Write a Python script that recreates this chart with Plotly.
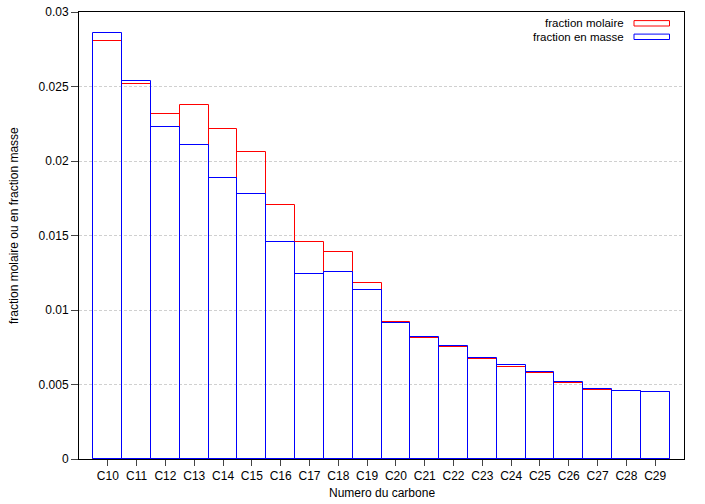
import plotly.graph_objects as go

carbones = ['C10', 'C11', 'C12', 'C13', 'C14', 'C15', 'C16', 'C17', 'C18', 'C19',
            'C20', 'C21', 'C22', 'C23', 'C24', 'C25', 'C26', 'C27', 'C28', 'C29']
fraction_molaire = [0.02807, 0.02517, 0.02315, 0.02374, 0.02215, 0.02058, 0.01707, 0.01454,
                    0.01389, 0.01184, 0.00917, 0.00810, 0.00750, 0.00669, 0.00615, 0.00575,
                    0.00508, 0.00465, 0.00454, 0.00448]
fraction_masse = [0.02857, 0.02537, 0.02230, 0.02107, 0.01884, 0.01779, 0.01459, 0.01240,
                  0.01255, 0.01132, 0.00913, 0.00817, 0.00760, 0.00680, 0.00629, 0.00586,
                  0.00517, 0.00470, 0.00458, 0.00452]
y_ticks = [0, 0.005, 0.01, 0.015, 0.02, 0.025, 0.03]
y_labels = ['0', '0.005', '0.01', '0.015', '0.02', '0.025', '0.03']

font = 'Liberation Sans, Arial, sans-serif'

# plot area in pixels (gnuplot-like frame)
L, R, T, B = 79, 684, 12, 459
W, H = R - L, B - T

fig = go.Figure()

# Outline-only bars, full width, overlaid
for name, vals, color in [('fraction molaire', fraction_molaire, 'red'),
                          ('fraction en masse', fraction_masse, 'blue')]:
    fig.add_trace(go.Bar(
        x=carbones,
        y=vals,
        name=name,
        width=1,
        marker=dict(color='rgba(0,0,0,0)', line=dict(color=color, width=1)),
        showlegend=False
    ))

# gnuplot-style legend: text on the left, sample box on the right
for i, (name, color) in enumerate([('fraction molaire', 'red'), ('fraction en masse', 'blue')]):
    yc = 1 - (11.3 + 13.5 * i) / H
    fig.add_annotation(x=(626 - L) / W, y=yc, xref='paper', yref='paper',
                       text=name, showarrow=False, xanchor='right', yanchor='middle',
                       font=dict(family=font, size=11.5, color='black'))
    fig.add_shape(type='rect', xref='paper', yref='paper',
                  x0=(634 - L) / W, x1=(669.5 - L) / W,
                  y0=yc - 2.7 / H, y1=yc + 2.7 / H,
                  line=dict(color=color, width=1), fillcolor='rgba(0,0,0,0)')

# axis titles
fig.add_annotation(x=(382 - L) / W, y=0, xref='paper', yref='paper', yshift=-(493 - B),
                   text='Numero du carbone', showarrow=False,
                   xanchor='center', yanchor='middle',
                   font=dict(family=font, size=12, color='black'))
fig.add_annotation(x=0, y=(B - 226) / H, xref='paper', yref='paper', xshift=-(L - 14),
                   text='fraction molaire ou en fraction masse', showarrow=False,
                   textangle=-90, xanchor='center', yanchor='middle',
                   font=dict(family=font, size=12, color='black'))

fig.update_layout(
    width=705, height=504,
    margin=dict(l=L, r=705 - R, t=T, b=504 - B),
    barmode='overlay',
    bargap=0,
    plot_bgcolor='white',
    paper_bgcolor='white',
    font=dict(family=font, size=12, color='black'),
    xaxis=dict(
        type='category',
        range=[-1, 20],
        automargin=False,
        showgrid=False,
        showline=True, linecolor='black', linewidth=1, mirror=True,
        ticks='outside', ticklen=6, tickcolor='#444',
    ),
    yaxis=dict(
        range=[0, 0.03],
        automargin=False,
        tickvals=y_ticks,
        ticktext=y_labels,
        showgrid=True, gridcolor='#d0d0d0', griddash='3px,2px', gridwidth=1,
        zeroline=False,
        showline=True, linecolor='black', linewidth=1, mirror=True,
        ticks='outside', ticklen=7, tickcolor='#444',
    ),
)

# drop the default page margin so the figure sits at the window's corner
fig.write_html("out.html", config={'displayModeBar': False},
               post_script="document.body.style.margin='0';")
